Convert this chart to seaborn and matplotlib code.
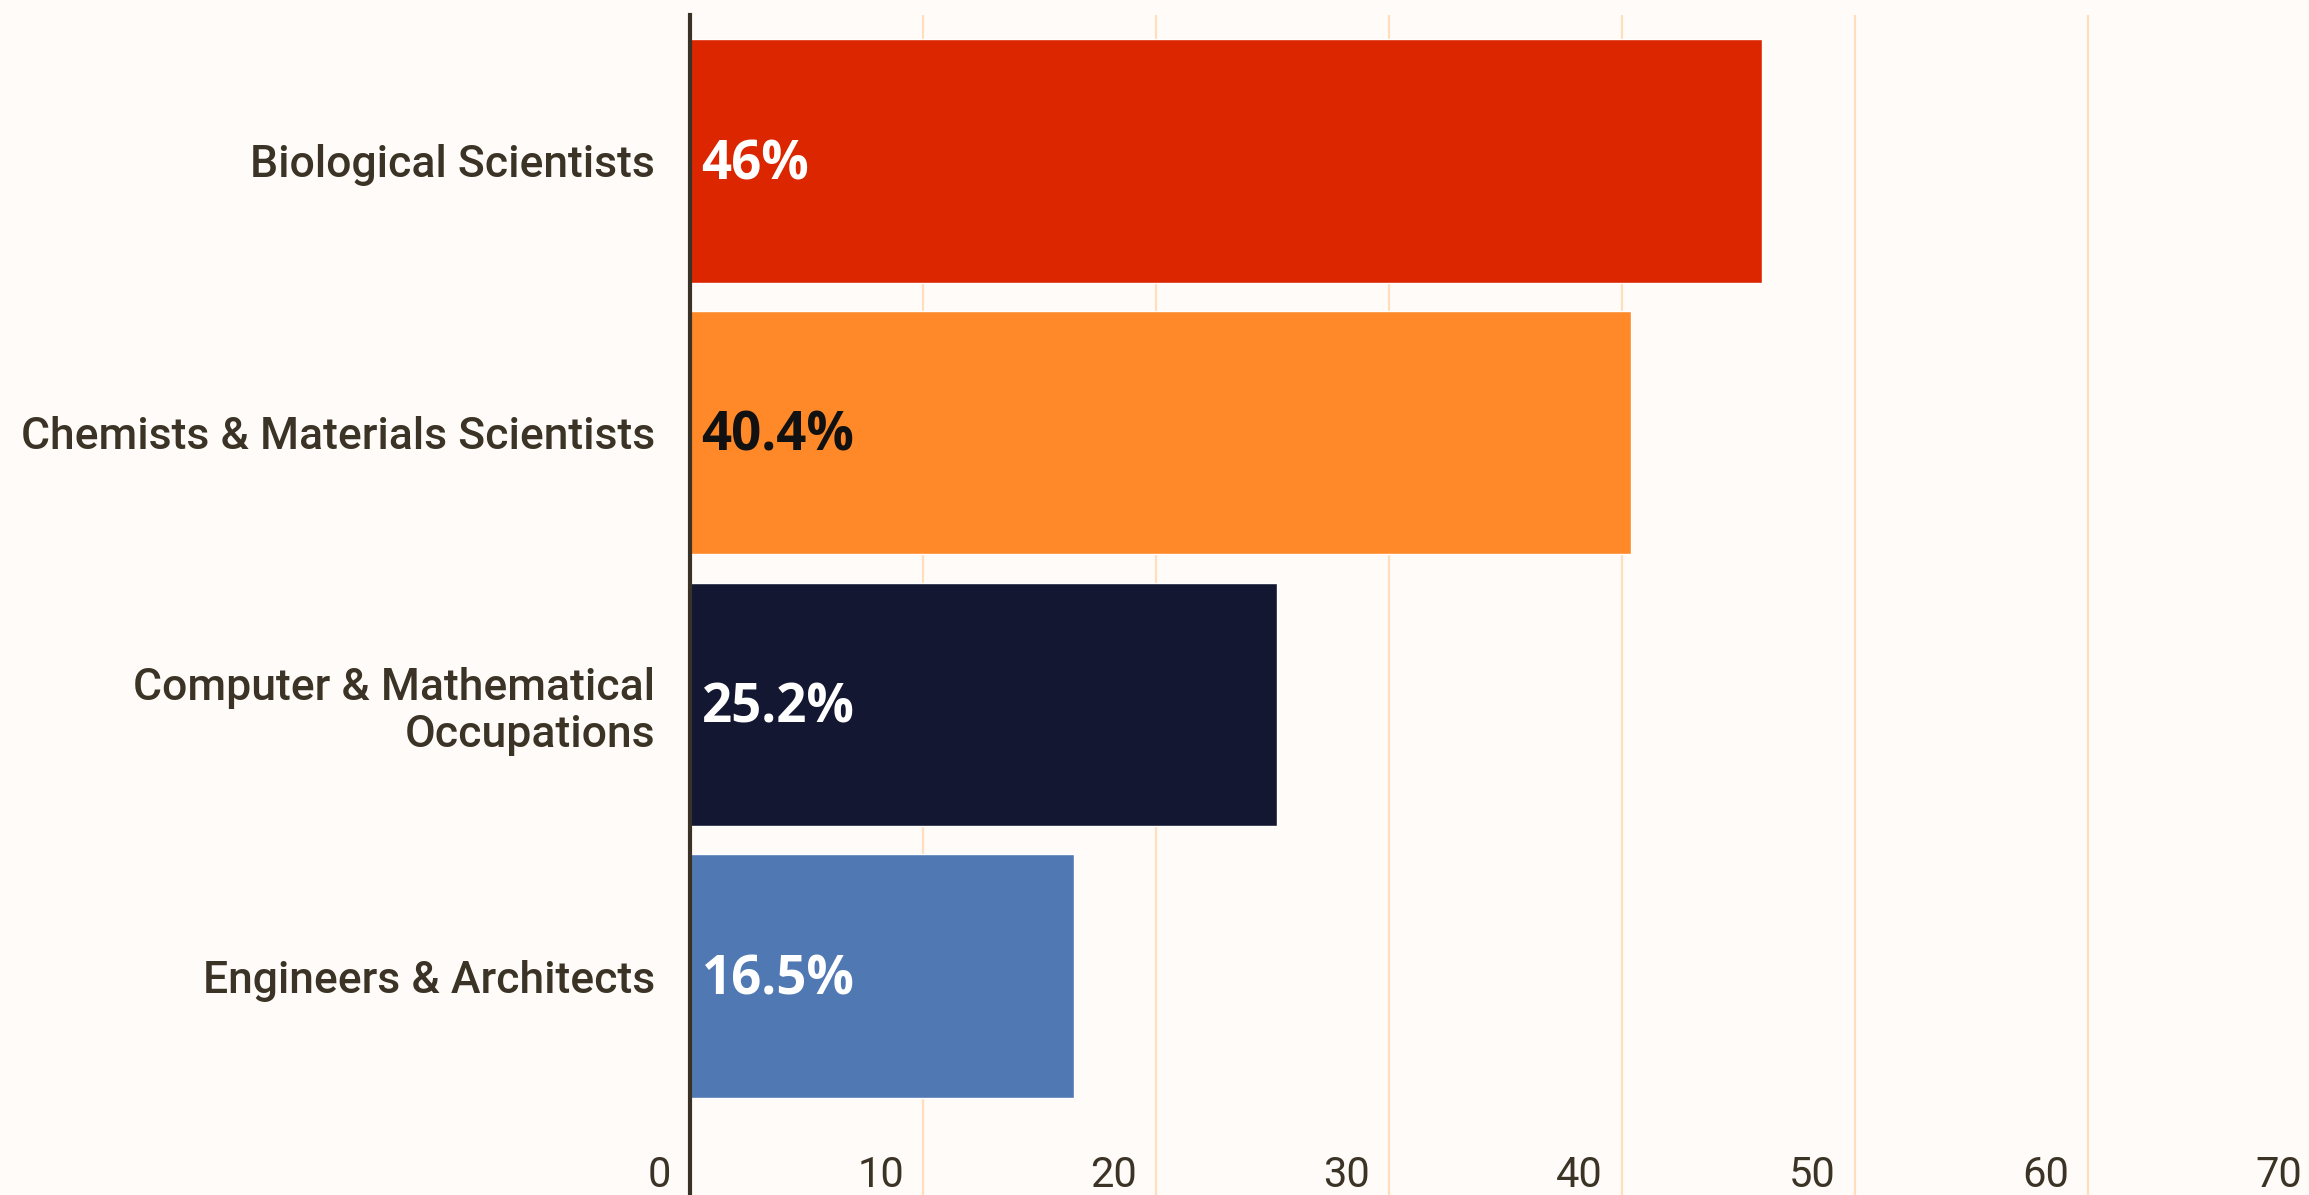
import matplotlib
matplotlib.use("Agg")
import matplotlib.pyplot as plt
import matplotlib.transforms as mtransforms
import pandas as pd
import seaborn as sns

categories = [
    "Biological Scientists",
    "Chemists & Materials Scientists",
    "Computer & Mathematical\nOccupations",
    "Engineers & Architects",
]
values = [46.0, 40.4, 25.2, 16.5]
value_labels = ["46%", "40.4%", "25.2%", "16.5%"]
bar_colors = ["#DC2600", "#FF8929", "#141731", "#5079B4"]
label_colors = ["#FFFFFF", "#111111", "#FFFFFF", "#FFFFFF"]
x_ticks = [0, 10, 20, 30, 40, 50, 60, 70]

BG = "#FFFBF8"
TEXT = "#3B3325"
GRID = "#FFDDBD"

sns.set_theme(style="white")
plt.rcParams["font.family"] = ["Roboto", "DejaVu Sans"]

df = pd.DataFrame({"category": categories, "value": values})

fig = plt.figure(figsize=(23.09, 11.95), dpi=100, facecolor=BG)
ax = fig.add_axes([0.2988, 0.0, 0.7265, 0.9874])
ax.set_facecolor(BG)

sns.barplot(
    data=df, x="value", y="category", hue="category",
    palette=bar_colors, legend=False, orient="h", width=0.895,
    saturation=1, ax=ax, zorder=3,
)

ax.set_xlim(0, 72)
ax.set_ylim(3.806, -0.537)
ax.set_xticks(x_ticks)
ax.set_xticklabels([str(t) for t in x_ticks])
ax.set_xlabel("")
ax.set_ylabel("")

# vertical grid lines (the zero line is the axis itself)
for t in x_ticks[1:]:
    ax.axvline(t, color=GRID, linewidth=1.6, zorder=1)

for side in ["top", "right", "bottom"]:
    ax.spines[side].set_visible(False)
ax.spines["left"].set_color("#3A3226")
ax.spines["left"].set_linewidth(3)
ax.spines["left"].set_zorder(4)

ax.tick_params(axis="y", length=0, pad=25, labelsize=32, labelcolor=TEXT)
ax.tick_params(axis="x", length=0, pad=-29, labelsize=30, labelcolor=TEXT)
for lab in ax.get_yticklabels():
    lab.set_linespacing(1.15)
    lab.set_fontweight("medium")

offset = mtransforms.ScaledTranslation(-19 / 100, 0, fig.dpi_scale_trans)
for lab in ax.get_xticklabels():
    lab.set_horizontalalignment("right")
    lab.set_transform(lab.get_transform() + offset)

for i, (txt, col) in enumerate(zip(value_labels, label_colors)):
    ax.text(0.5, i + 0.015, txt, color=col, fontsize=38, fontweight="bold",
            family=["Open Sans", "DejaVu Sans"],
            va="center", ha="left", zorder=5)

fig.savefig("out.png", dpi=100, facecolor=BG)
